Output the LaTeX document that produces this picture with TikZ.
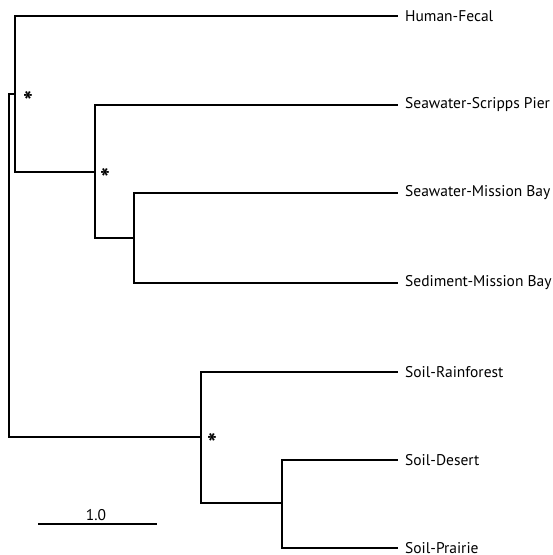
\documentclass[tikz,border=0pt]{standalone}
\usepackage{fontspec}
\setmainfont{PT Sans}
\begin{document}
\begin{tikzpicture}[x=1pt,y=-1pt,
  branch/.style={line width=1.8pt, line cap=rect},
  leaflabel/.style={anchor=west, inner sep=0pt, font=\fontsize{15.5}{17}\selectfont},
  support/.style={inner sep=0pt, font=\bfseries\fontsize{26}{26}\selectfont}]
\useasboundingbox[fill=white] (0,0) rectangle (553,555);
% internal nodes
\coordinate (R) at (9,94);
\coordinate (A) at (15,94);
\coordinate (B) at (95,172);
\coordinate (C) at (134,238);
\coordinate (D) at (201,437);
\coordinate (E) at (282,503);
% leaf ends
\coordinate (l1) at (397,16);
\coordinate (l2) at (397,105);
\coordinate (l3) at (397,193);
\coordinate (l4) at (397,283);
\coordinate (l5) at (397,372);
\coordinate (l6) at (397,460);
\coordinate (l7) at (397,548);
% labels
\node[leaflabel] (t1) at (405,16) {Human-Fecal};
\node[leaflabel] (t2) at (405,105) {Seawater-Scripps Pier};
\node[leaflabel] (t3) at (405,193) {Seawater-Mission Bay};
\node[leaflabel] (t4) at (405,283) {Sediment-Mission Bay};
\node[leaflabel] (t5) at (405,372) {Soil-Rainforest};
\node[leaflabel] (t6) at (405,460) {Soil-Desert};
\node[leaflabel] (t7) at (405,548) {Soil-Prairie};
% branches
\draw[branch] (R) -- (A);
\draw[branch] (R) |- (D);
\draw[branch] (A) |- (l1);
\draw[branch] (A) |- (B);
\draw[branch] (B) |- (l2);
\draw[branch] (B) |- (C);
\draw[branch] (C) |- (l3);
\draw[branch] (C) |- (l4);
\draw[branch] (D) |- (l5);
\draw[branch] (D) |- (E);
\draw[branch] (E) |- (l6);
\draw[branch] (E) |- (l7);
% support asterisks
\node[support] (s1) at (28,101) {*};
\node[support] (s2) at (105,178) {*};
\node[support] (s3) at (212,443) {*};
% scale bar
\coordinate (sb1) at (38,524);
\coordinate (sb2) at (157,524);
\draw[line width=1.8pt] (sb1) -- (sb2);
\node[inner sep=0pt, font=\fontsize{15.5}{17}\selectfont] (sbl) at (96,515) {1.0};
\end{tikzpicture}
\end{document}
